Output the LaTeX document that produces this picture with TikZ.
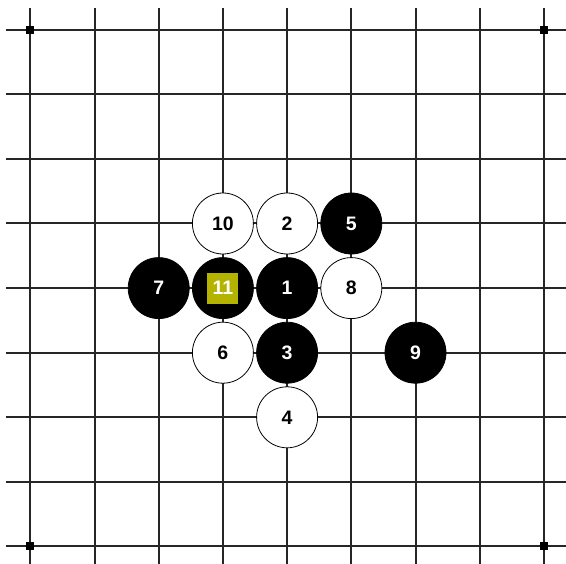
\documentclass[tikz,border=0pt]{standalone}
\usepackage{fontspec}
\setmainfont{Liberation Sans}
\definecolor{hl}{RGB}{180,180,0}
\begin{document}
\begin{tikzpicture}[x=1pt,y=-1pt,
  gridline/.style={line width=2pt,draw=black!85},
  stonefont/.style={font=\bfseries\fontsize{19.5}{19.5}\selectfont},
  bstone/.style={circle,fill=black,draw=black,line width=0.8pt,minimum size=61pt,inner sep=0pt,text=white,stonefont},
  wstone/.style={circle,fill=white,draw=black,line width=0.8pt,minimum size=61pt,inner sep=0pt,text=black,stonefont},
  hlbox/.style={fill=hl,minimum size=31pt,inner sep=0pt,text=white,stonefont},
  cdot/.style={fill=black,minimum size=8pt,inner sep=0pt}]
\useasboundingbox (0,0) rectangle (566,564);
\fill[white] (0,0) rectangle (566,564);
\foreach \i in {0,...,8}{
  \pgfmathsetmacro{\xx}{30.3+64.2*\i}
  \pgfmathsetmacro{\yy}{29.7+64.6*\i}
  \draw[gridline] (\xx,8) -- (\xx,564);
  \draw[gridline] (6,\yy) -- (566,\yy);
}
\node[cdot] (c1) at (30.3,29.7) {};
\node[cdot] (c2) at (543.9,29.7) {};
\node[cdot] (c3) at (30.3,546.5) {};
\node[cdot] (c4) at (543.9,546.5) {};
% columns: 2=158.7 3=222.9 4=287.1 5=351.3 6=415.5 ; rows: 3=223.5 4=288.1 5=352.7 6=417.3
\node[wstone] (s10) at (222.9,223.5) {10};
\node[wstone] (s2) at (287.1,223.5) {2};
\node[bstone] (s5) at (351.3,223.5) {5};
\node[bstone] (s7) at (158.7,288.1) {7};
\node[bstone] (s11) at (222.9,288.1) {};
\node[hlbox] (h11) at (s11.center) {11};
\node[bstone] (s1) at (287.1,288.1) {1};
\node[wstone] (s8) at (351.3,288.1) {8};
\node[wstone] (s6) at (222.9,352.7) {6};
\node[bstone] (s3) at (287.1,352.7) {3};
\node[bstone] (s9) at (415.5,352.7) {9};
\node[wstone] (s4) at (287.1,417.3) {4};
\end{tikzpicture}
\end{document}
